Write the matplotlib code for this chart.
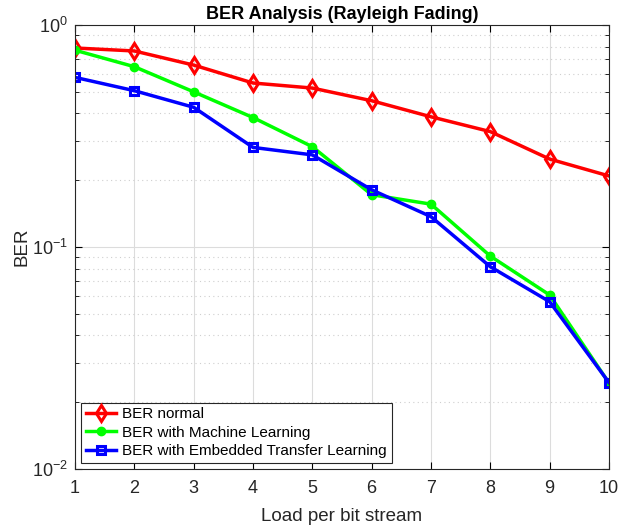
import numpy as np
import matplotlib.pyplot as plt

plt.rcParams['font.family'] = ['Liberation Sans', 'DejaVu Sans']
plt.rcParams['mathtext.fontset'] = 'custom'
plt.rcParams['mathtext.rm'] = 'Liberation Sans'

# data
load = [1, 2, 3, 4, 5, 6, 7, 8, 9, 10]
ber_normal = [0.788, 0.764, 0.66, 0.548, 0.52, 0.456, 0.386, 0.331, 0.249, 0.209]
ber_ml = [0.77, 0.649, 0.50, 0.383, 0.283, 0.172, 0.156, 0.091, 0.0608, 0.0244]
ber_etl = [0.581, 0.506, 0.426, 0.281, 0.26, 0.181, 0.137, 0.0815, 0.0567, 0.0245]

fig = plt.figure(figsize=(6.18, 5.29), dpi=100)
ax = fig.add_axes([0.1214, 0.1134, 0.864, 0.8393])

ax.semilogy(load, ber_normal, color='red', lw=2.5, marker='d', ms=8,
            mfc='none', mew=2.2, label='BER normal')
ax.semilogy(load, ber_ml, color='#00ff00', lw=2.5, marker='o', ms=6,
            mfc='#00ff00', label='BER with Machine Learning')
ax.semilogy(load, ber_etl, color='blue', lw=2.5, marker='s', ms=6,
            mfc='none', mew=2.2, label='BER with Embedded Transfer Learning')

ax.set_xlim(1, 10)
ax.set_ylim(1e-2, 1e0)
ax.set_xticks(load)
ax.set_yticks([1e-2, 1e-1, 1e0])
ax.set_yticklabels(['$10^{-2}$', '$10^{-1}$', '$10^{0}$'])

ax.grid(True, which='major', color='#dcdcdc', lw=0.8, ls='-')
ax.grid(True, which='minor', axis='y', color='#cfcfcf', lw=0.8, ls=(0, (1, 3)))
ax.tick_params(which='both', direction='in', top=True, right=True,
               labelsize=13, labelcolor='#262626')
ax.tick_params(axis='x', pad=8)
ax.tick_params(axis='y', pad=5)
ax.tick_params(which='major', length=5)
ax.tick_params(which='minor', length=3)
ax.tick_params(axis='x', which='minor', bottom=False, top=False)
for s in ax.spines.values():
    s.set_color('#262626')
    s.set_linewidth(0.8)

ax.set_title('BER Analysis (Rayleigh Fading)', fontsize=13, fontweight='bold', pad=4)
ax.set_xlabel('Load per bit stream', fontsize=13.5, labelpad=8, color='#262626')
ax.set_ylabel('BER', fontsize=13.5, labelpad=1, color='#262626')

leg = ax.legend(loc='lower left', fontsize=11, fancybox=False, framealpha=1,
                edgecolor='#262626', borderpad=0.3, labelspacing=0.3,
                handlelength=2.0, handletextpad=0.4, borderaxespad=0.4)
leg.get_frame().set_linewidth(0.8)

fig.savefig('out.png', dpi=100)
